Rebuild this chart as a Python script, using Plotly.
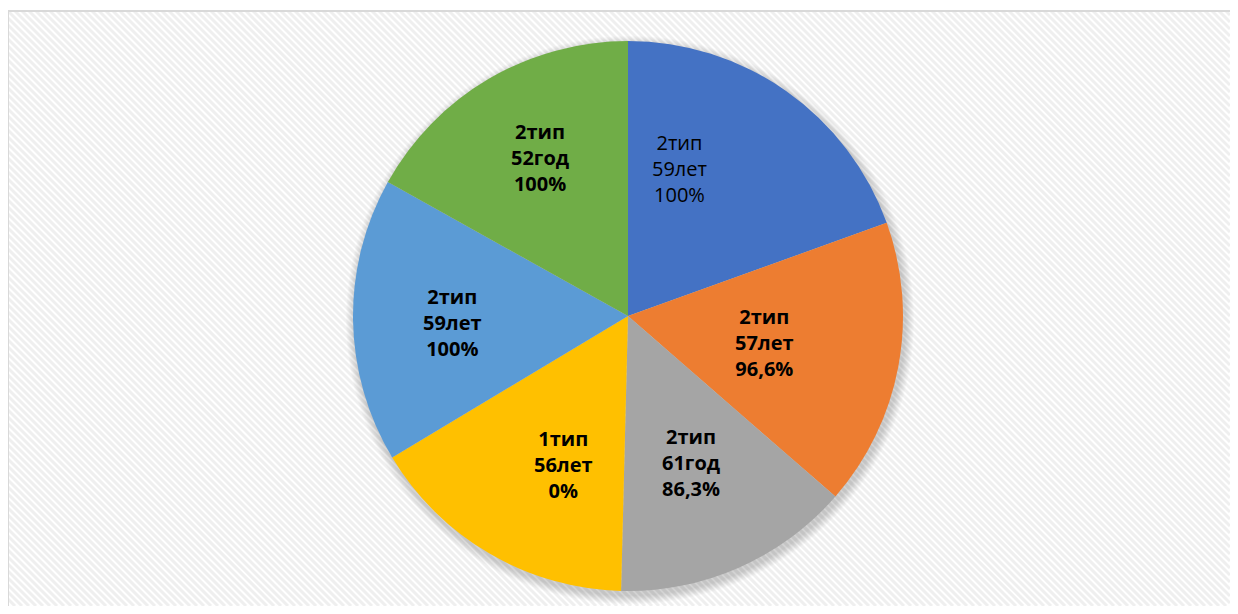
import math
import plotly.graph_objects as go

# ---- data ----
types = ["2тип", "2тип", "2тип", "1тип", "2тип", "2тип"]
ages = ["59лет", "57лет", "61год", "56лет", "59лет", "52год"]
rates = ["100%", "96,6%", "86,3%", "0%", "100%", "100%"]
shares = [19.5, 16.9, 14.0, 16.0, 16.7, 16.9]

# ---- style ----
colors = ["#4472C4", "#ED7D31", "#A5A5A5", "#FFC000", "#5B9BD5", "#70AD47"]
bold = [False, True, True, True, True, True]
label_r = [0.57, 0.505, 0.58, 0.59, 0.64, 0.66]
label_dtheta = [-15.8, 0.4, 0.6, -6.9, -1.3, 1.3]

OFF = 8  # default page body margin
W, H = 1238 - 2 * OFF, 614 - 2 * OFF
CX, CY, R = 628 - OFF, 316 - OFF, 275  # pixel centre (from figure top-left) and radius


def px(x):
    return x / W


def py(y):
    return 1 - y / H


fig = go.Figure()
fig.add_trace(go.Pie(
    values=shares,
    labels=[f"{t} {a} #{i}" for i, (t, a) in enumerate(zip(types, ages))],
    marker=dict(colors=colors, line=dict(width=0)),
    sort=False,
    direction="clockwise",
    rotation=0,
    textinfo="none",
    hoverinfo="skip",
    showlegend=False,
    domain=dict(x=[px(CX - R), px(CX + R)], y=[py(CY + R), py(CY - R)]),
))

shapes = []
# diagonal stripe background inside frame
FX0, FY0, FX1, FY1 = 0, 11 - OFF, W, H
segs = []
step = 7
for c in range(-H, W + step, step):
    t0 = max(FY0, FX0 - c)
    t1 = min(FY1, FX1 - c)
    if t0 < t1:
        segs.append(f"M{px(c + t0):.5f},{py(t0):.5f}L{px(c + t1):.5f},{py(t1):.5f}")
shapes.append(dict(type="path", xref="paper", yref="paper", path="".join(segs),
                   line=dict(color="#efefef", width=3), layer="below"))
# frame
shapes.append(dict(type="rect", xref="paper", yref="paper",
                   x0=px(FX0), y0=py(FY0), x1=px(W + 10), y1=py(H + 10),
                   line=dict(color="#d9d9d9", width=2), fillcolor="rgba(0,0,0,0)", layer="below"))
# soft shadow
for k in range(1, 10):
    rr = R + k
    sx, sy = CX + 2, CY + 4
    shapes.append(dict(type="circle", xref="paper", yref="paper",
                       x0=px(sx - rr), x1=px(sx + rr), y0=py(sy + rr), y1=py(sy - rr),
                       fillcolor="rgba(0,0,0,0.02)", line=dict(width=0), layer="below"))

# labels
annotations = []
total = sum(shares)
cum = 0.0
for i, v in enumerate(shares):
    mid = (cum + v / 2) / total * 360
    cum += v
    th = math.radians(mid + label_dtheta[i])
    r = label_r[i] * R
    x = CX + r * math.sin(th)
    y = CY - r * math.cos(th)
    txt = f"{types[i]}<br>{ages[i]}<br>{rates[i]}"
    if bold[i]:
        txt = f"<b>{types[i]}</b><br><b>{ages[i]}</b><br><b>{rates[i]}</b>"
    annotations.append(dict(x=px(x), y=py(y), xref="paper", yref="paper",
                            text=txt, showarrow=False,
                            font=dict(family="Open Sans", size=20, color="#000000"),
                            xanchor="center", yanchor="middle", align="center"))

fig.update_layout(
    width=W, height=H,
    margin=dict(l=0, r=0, t=0, b=0),
    paper_bgcolor="#ffffff",
    plot_bgcolor="#ffffff",
    shapes=shapes,
    annotations=annotations,
)
fig.write_html("out.html")
